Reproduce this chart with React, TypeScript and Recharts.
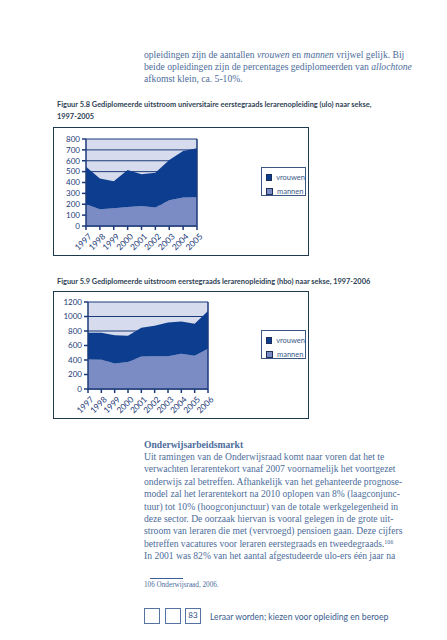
import React from 'react';
import {
  Area,
  AreaChart,
  CartesianGrid,
  Legend,
  ReferenceLine,
  XAxis,
  YAxis
} from 'recharts';

// Figuur 5.8 (ulo), 1997-2005
const uloYears = ['1997', '1998', '1999', '2000', '2001', '2002', '2003', '2004', '2005'];
const uloMannen = [200, 154, 163, 175, 185, 169, 237, 262, 265];
const uloVrouwen = [345, 283, 249, 339, 292, 320, 369, 427, 449];
const uloTicks = [0, 100, 200, 300, 400, 500, 600, 700, 800];

// Figuur 5.9 (hbo), 1997-2006
const hboYears = ['1997', '1998', '1999', '2000', '2001', '2002', '2003', '2004', '2005', '2006'];
const hboMannen = [411, 406, 351, 374, 448, 452, 452, 485, 457, 554];
const hboVrouwen = [364, 369, 392, 360, 397, 420, 466, 447, 443, 521];
const hboTicks = [0, 200, 400, 600, 800, 1000, 1200];

const seriesNames = ['vrouwen', 'mannen'];

const uloData = uloYears.map((year, i) => ({ year, mannen: uloMannen[i], vrouwen: uloVrouwen[i] }));
const hboData = hboYears.map((year, i) => ({ year, mannen: hboMannen[i], vrouwen: hboVrouwen[i] }));

const DARK = '#0c3d8f';
const LIGHT = '#7b8cc4';
const BG = '#d6dbed';
const NAVY = '#1d3a78';
const TEXT = '#4d6d9b';
const SANS = 'Lato, "Open Sans", sans-serif';
const SERIF = '"Liberation Serif", "DejaVu Serif", serif';

const XTick = (props: any) => {
  const { x, y, payload } = props;
  return (
    <g transform={`translate(${x + 4},${y + 5}) rotate(-45)`}>
      <text x={0} y={0} dy="0.35em" textAnchor="end" fontSize={8.4} fill={NAVY} fontFamily={SANS}>
        {payload.value}
      </text>
    </g>
  );
};

const LegendBox = () => (
  <div
    style={{
      width: 45,
      height: 29,
      boxSizing: 'border-box',
      border: `1px solid #3b5680`,
      background: '#fff',
      padding: '4px 0 0 4px',
      fontFamily: SANS,
      fontSize: 7.5,
      color: '#3d5a8c'
    }}
  >
    {seriesNames.map((name) => (
      <div key={name} style={{ display: 'flex', alignItems: 'center', height: 11, marginBottom: 3 }}>
        <span
          style={{
            display: 'inline-block',
            width: 5,
            height: 5,
            background: name === 'vrouwen' ? DARK : LIGHT,
            border: '0.5px solid #1d2f5a',
            marginRight: 4
          }}
        />
        {name}
      </div>
    ))}
  </div>
);

type StackProps = {
  data: any[];
  years: string[];
  ticks: number[];
  width: number;
  height: number;
  margin: { top: number; right: number; bottom: number; left: number };
  yWidth: number;
  legendTop: number;
};

const StackChart: React.FC<StackProps> = ({ data, years, ticks, width, height, margin, yWidth, legendTop }) => (
  <AreaChart width={width} height={height} data={data} margin={margin}>
    <CartesianGrid vertical={false} stroke={NAVY} fill={BG} strokeWidth={1} />
    <XAxis
      dataKey="year"
      height={30}
      interval={0}
      tickSize={4}
      tickMargin={0}
      tick={<XTick />}
      axisLine={{ stroke: NAVY, strokeWidth: 1.5 }}
      tickLine={{ stroke: NAVY, strokeWidth: 1.5 }}
    />
    <YAxis
      width={yWidth}
      domain={[ticks[0], ticks[ticks.length - 1]]}
      ticks={ticks}
      interval={0}
      tickSize={4}
      tickMargin={2}
      tick={{ fontSize: 8, fill: NAVY, fontFamily: SANS }}
      axisLine={{ stroke: NAVY, strokeWidth: 1.5 }}
      tickLine={{ stroke: NAVY, strokeWidth: 1.5 }}
    />
    <Area
      type="linear"
      dataKey="mannen"
      stackId="a"
      stroke="none"
      fill={LIGHT}
      fillOpacity={1}
      isAnimationActive={false}
    />
    <Area
      type="linear"
      dataKey="vrouwen"
      stackId="a"
      stroke="none"
      fill={DARK}
      fillOpacity={1}
      isAnimationActive={false}
    />
    <ReferenceLine x={years[years.length - 1]} stroke={NAVY} strokeWidth={1.5} />
    <Legend
      layout="horizontal"
      verticalAlign="middle"
      align="right"
      content={() => <LegendBox />}
      wrapperStyle={{ left: 208, top: legendTop, width: 45, height: 29 }}
    />
  </AreaChart>
);

const abs = (left: number, top: number, extra: React.CSSProperties = {}): React.CSSProperties => ({
  position: 'absolute',
  left,
  top,
  ...extra
});

const bodyLine: React.CSSProperties = {
  fontFamily: SERIF,
  fontSize: 9.6,
  lineHeight: '12.4px',
  color: TEXT,
  whiteSpace: 'nowrap'
};

const caption: React.CSSProperties = {
  fontFamily: SANS,
  fontSize: 7.4,
  fontWeight: 700,
  lineHeight: '12px',
  color: '#2e3f55',
  whiteSpace: 'nowrap'
};

const frame: React.CSSProperties = {
  width: 256,
  boxSizing: 'border-box',
  border: '1.5px solid #1e3a4e'
};

const box: React.CSSProperties = {
  width: 16,
  height: 16,
  boxSizing: 'border-box',
  border: `1.5px solid #5473a0`,
  fontFamily: SANS,
  fontSize: 8,
  color: '#2e4c7c',
  textAlign: 'center',
  lineHeight: '13px'
};

const topLines = [
  <>opleidingen zijn de aantallen <i>vrouwen</i> en <i>mannen</i> vrijwel gelijk. Bij</>,
  <>beide opleidingen zijn de percentages gediplomeerden van <i>allochtone</i></>,
  <>afkomst klein, ca. 5-10%.</>
];

const bottomLines = [
  <>Uit ramingen van de Onderwijsraad komt naar voren dat het te</>,
  <>verwachten lerarentekort vanaf 2007 voornamelijk het voortgezet</>,
  <>onderwijs zal betreffen. Afhankelijk van het gehanteerde prognose-</>,
  <>model zal het lerarentekort na 2010 oplopen van 8% (laagconjunc-</>,
  <>tuur) tot 10% (hoogconjunctuur) van de totale werkgelegenheid in</>,
  <>deze sector. De oorzaak hiervan is vooral gelegen in de grote uit-</>,
  <>stroom van leraren die met (vervroegd) pensioen gaan. Deze cijfers</>,
  <>
    betreffen vacatures voor leraren eerstegraads en tweedegraads.
    <sup style={{ fontSize: 6, verticalAlign: 'top', lineHeight: '8px' }}>106</sup>
  </>,
  <>In 2001 was 82% van het aantal afgestudeerde ulo-ers één jaar na</>
];

export default function App() {
  return (
    <div style={{ position: 'absolute', left: 0, top: 0, width: 447, height: 640, background: '#fff' }}>
      {topLines.map((l, i) => (
        <div key={i} style={abs(144, 48.5 + i * 12.4, bodyLine)}>
          {l}
        </div>
      ))}

      <div style={abs(57, 99, caption)}>
        Figuur 5.8 Gediplomeerde uitstroom universitaire eerstegraads lerarenopleiding (ulo) naar sekse,
        <br />
        1997-2005
      </div>
      <div style={abs(53, 127, { ...frame, height: 129 })} />
      <div style={abs(53, 127)}>
        <StackChart
          data={uloData}
          years={uloYears}
          ticks={uloTicks}
          width={256}
          height={129}
          margin={{ top: 12, right: 67, bottom: 0, left: 0 }}
          yWidth={33}
          legendTop={40}
        />
      </div>

      <div style={abs(57, 276, caption)}>
        Figuur 5.9 Gediplomeerde uitstroom eerstegraads lerarenopleiding (hbo) naar sekse, 1997-2006
      </div>
      <div style={abs(53, 291, { ...frame, height: 128 })} />
      <div style={abs(53, 291)}>
        <StackChart
          data={hboData}
          years={hboYears}
          ticks={hboTicks}
          width={256}
          height={128}
          margin={{ top: 11, right: 56, bottom: 0, left: 0 }}
          yWidth={35}
          legendTop={39}
        />
      </div>

      <div style={abs(144, 438.5, { ...bodyLine, fontWeight: 700 })}>Onderwijsarbeidsmarkt</div>
      {bottomLines.map((l, i) => (
        <div key={i} style={abs(144, 450.9 + i * 12.4, bodyLine)}>
          {l}
        </div>
      ))}

      <div style={abs(150, 577.5, { width: 33, height: 1, background: '#3c5f93' })} />
      <div style={abs(144, 580, { ...bodyLine, fontSize: 7.2, lineHeight: '10px' })}>106 Onderwijsraad, 2006.</div>

      <div style={abs(144, 608, box)} />
      <div style={abs(165, 608, box)} />
      <div style={abs(185, 608, box)}>83</div>
      <div
        style={abs(210, 611, {
          fontFamily: SANS,
          fontSize: 8.6,
          lineHeight: '12px',
          color: '#3a5c90',
          whiteSpace: 'nowrap'
        })}
      >
        Leraar worden; kiezen voor opleiding en beroep
      </div>
    </div>
  );
}
